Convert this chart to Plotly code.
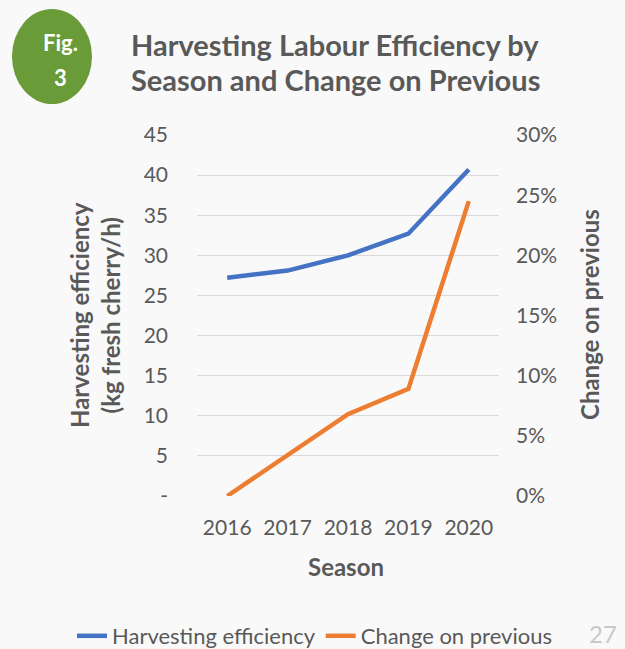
import plotly.graph_objects as go

seasons = ["2016", "2017", "2018", "2019", "2020"]
efficiency = [27.2, 28.1, 30.0, 32.7, 40.7]
change = [0.0, 0.034, 0.068, 0.089, 0.245]
left_ticks = [0, 5, 10, 15, 20, 25, 30, 35, 40, 45]
left_ticktext = ["-", "5", "10", "15", "20", "25", "30", "35", "40", "45"]
right_ticks = [0, 0.05, 0.10, 0.15, 0.20, 0.25, 0.30]

FONT = "Lato"
GRAY = "#595959"
BG = "#f9f9f9"

fig = go.Figure()
fig.add_trace(go.Scatter(x=seasons, y=efficiency, mode="lines", name="Harvesting efficiency",
                         line=dict(color="#4472C4", width=4.5)))
fig.add_trace(go.Scatter(x=seasons, y=change, mode="lines", name="Change on previous",
                         line=dict(color="#ED7D31", width=4.5), yaxis="y2"))


def px_x(x):
    return (x - 197) / 302


def px_y(y):
    return (496 - y) / 361


fig.update_layout(
    width=625, height=649,
    paper_bgcolor=BG, plot_bgcolor=BG,
    margin=dict(l=197, r=126, t=135, b=153, autoexpand=False),
    font=dict(family=FONT, color=GRAY, size=21),
    xaxis=dict(type="category", range=[-0.5, 4.5], showgrid=False, showline=False,
               zeroline=False, ticks="", ticklabelstandoff=17,
               tickfont=dict(size=21, color=GRAY)),
    yaxis=dict(range=[0, 45], tickvals=left_ticks, ticktext=left_ticktext,
               showgrid=True, gridcolor="#d9d9d9", gridwidth=1.3, zeroline=False,
               showline=False, ticks="", ticklabelstandoff=28,
               tickfont=dict(size=21, color=GRAY)),
    yaxis2=dict(range=[0, 0.30], tickvals=right_ticks, tickformat=".0%",
                overlaying="y", side="right", showgrid=False, zeroline=False,
                showline=False, ticks="", ticklabelstandoff=16,
                tickfont=dict(size=21, color=GRAY)),
    legend=dict(orientation="h", x=px_x(72), xanchor="left",
                y=px_y(636), yanchor="middle",
                font=dict(size=22, color=GRAY), bgcolor="rgba(0,0,0,0)",
                tracegroupgap=0),
    showlegend=True,
)

# Green "Fig. 3" badge
fig.add_shape(type="circle", xref="paper", yref="paper",
              x0=px_x(12), x1=px_x(92), y0=px_y(104), y1=px_y(9),
              fillcolor="#6a9b39", line=dict(width=0), layer="above")


def ann(x, y, text, size, color=GRAY, angle=0):
    fig.add_annotation(x=px_x(x), y=px_y(y), xref="paper", yref="paper", text=text,
                       showarrow=False, xanchor="center", yanchor="middle",
                       textangle=angle, font=dict(size=size, color=color, family=FONT))


ann(60, 42, "<b>Fig.</b>", 22, "white")
ann(60, 77, "<b>3</b>", 22, "white")
ann(335, 45, "<b>Harvesting Labour Efficiency by</b>", 29)
ann(335, 80, "<b>Season and Change on Previous</b>", 29)

ann(95, 315, "<b>Harvesting efficiency<br>(kg fresh cherry/h)</b>", 24, angle=-90)
ann(589, 315, "<b>Change on previous</b>", 24, angle=-90)
ann(346, 566, "<b>Season</b>", 24)
ann(603, 633, "27", 24, "#c8c8c8")

fig.write_html("out.html")
